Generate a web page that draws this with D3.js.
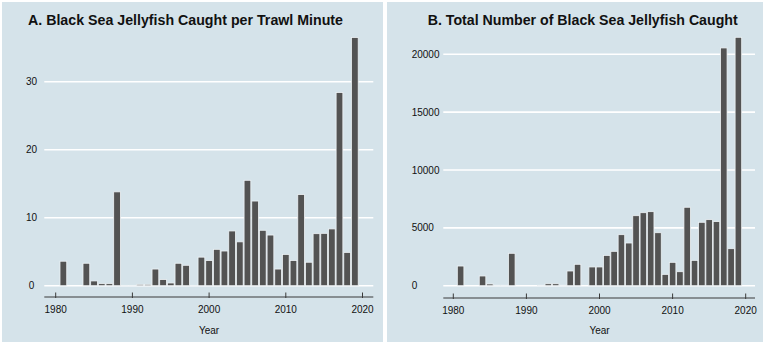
<!DOCTYPE html>
<html>
<head>
<meta charset="utf-8">
<script src="https://cdn.jsdelivr.net/npm/d3@7"></script>
<style>
  html, body { margin: 0; padding: 0; background: #ffffff; }
  svg { display: block; font-family: "Liberation Sans", Arial, sans-serif; }
</style>
</head>
<body>
<svg id="chart" width="765" height="345"></svg>
<script>
// ---- data ----
const years = d3.range(1980, 2020); // 1980..2019
// Panel A: jellyfish caught per trawl minute (null = no bar)
const perMinute = [
  null, 3.6, null, null, 3.3, 0.7, 0.3, 0.3, 13.8, 0.05,
  0.05, 0.2, 0.2, 2.45, 0.9, 0.4, 3.3, 3.0, 0.05, 4.2,
  3.7, 5.35, 5.1, 8.05, 6.45, 15.5, 12.45, 8.15, 7.45, 2.45,
  4.6, 3.7, 13.4, 3.45, 7.65, 7.7, 8.35, 28.4, 4.9, 36.5
];
// Panel B: total number caught
const totalCaught = [
  null, 1700, null, null, 840, 150, 40, 40, 2800, null,
  null, null, 40, 170, 170, 40, 1270, 1850, null, 1620,
  1620, 2620, 2970, 4410, 3690, 6050, 6310, 6400, 4580, 980,
  2020, 1210, 6780, 2190, 5480, 5710, 5540, 20550, 3200, 21470
];
const xTicks = [1980, 1990, 2000, 2010, 2020];
const yTicksA = [0, 10, 20, 30];
const yTicksB = [0, 5000, 10000, 15000, 20000];
const titleA = "A. Black Sea Jellyfish Caught per Trawl Minute";
const titleB = "B. Total Number of Black Sea Jellyfish Caught";
const xLabel = "Year";

// ---- style ----
const bg = "#d5e3ea";
const barFill = "#535353";
const barStroke = "#eef3f6";
const textColor = "#111111";

const svg = d3.select("#chart");

function panel(cfg) {
  const g = svg.append("g");
  g.append("rect")
    .attr("x", cfg.bx0).attr("y", 2)
    .attr("width", cfg.bx1 - cfg.bx0).attr("height", 340)
    .attr("fill", bg);

  const x = d3.scaleLinear().domain([1980, 2020]).range(cfg.xRange);
  const y = d3.scaleLinear().domain(cfg.yDomain).range([285.7, cfg.yTopPx]);
  const step = x(1981) - x(1980);
  const bw = step * cfg.barFrac;

  // gridlines
  g.append("g").selectAll("line").data(cfg.yTicks).join("line")
    .attr("x1", cfg.gx0).attr("x2", cfg.gx1)
    .attr("y1", d => y(d)).attr("y2", d => y(d))
    .attr("stroke", "#ffffff").attr("stroke-width", 1.6);

  // y tick labels
  g.append("g").selectAll("text").data(cfg.yTicks).join("text")
    .attr("x", cfg.ylx).attr("y", d => y(d))
    .attr("dy", "0.35em")
    .attr("text-anchor", cfg.ylAnchor)
    .attr("font-size", 10).attr("fill", textColor)
    .text(d => d);

  // bars
  const data = years.map((yr, i) => ({ yr, v: cfg.values[i] })).filter(d => d.v != null);
  g.append("g").selectAll("rect").data(data).join("rect")
    .attr("x", d => x(d.yr) - bw / 2)
    .attr("width", bw)
    .attr("y", d => y(d.v))
    .attr("height", d => Math.max(0.01, y(0) - y(d.v)))
    .attr("fill", barFill)
    .attr("stroke", barStroke).attr("stroke-width", 0.8);

  // x axis
  const axY = cfg.axisY;
  g.append("line")
    .attr("x1", cfg.gx0).attr("x2", cfg.gx1)
    .attr("y1", axY).attr("y2", axY)
    .attr("stroke", "#3a3a3a").attr("stroke-width", 1.2);
  g.append("g").selectAll("line").data(xTicks).join("line")
    .attr("x1", d => x(d)).attr("x2", d => x(d))
    .attr("y1", axY - 4.5).attr("y2", axY + 1)
    .attr("stroke", "#3a3a3a").attr("stroke-width", 1);
  g.append("g").selectAll("text").data(xTicks).join("text")
    .attr("x", d => x(d)).attr("y", axY + 12.5)
    .attr("dy", "0.35em")
    .attr("text-anchor", "middle")
    .attr("font-size", 10).attr("fill", textColor)
    .text(d => d);

  // axis title
  g.append("text")
    .attr("x", (x(1980) + x(2020)) / 2).attr("y", 330)
    .attr("dy", "0.35em").attr("text-anchor", "middle")
    .attr("font-size", 10).attr("fill", textColor)
    .text(xLabel);

  // panel title
  g.append("text")
    .attr("x", cfg.tx).attr("y", 25)
    .attr("font-size", 14.5).attr("font-weight", "bold")
    .attr("fill", textColor)
    .attr("textLength", cfg.tw)
    .attr("lengthAdjust", "spacingAndGlyphs")
    .text(cfg.title);
}

panel({
  bx0: 2, bx1: 383,
  xRange: [55.7, 362.5],
  yDomain: [0, 30], yTopPx: 81.7,
  gx0: 44.3, gx1: 373.3,
  ylx: 31.5, ylAnchor: "middle",
  yTicks: yTicksA,
  values: perMinute,
  barFrac: 0.88,
  axisY: 297,
  tx: 28, tw: 315,
  title: titleA
});

panel({
  bx0: 387, bx1: 763,
  xRange: [453.3, 745.7],
  yDomain: [0, 20000], yTopPx: 54.3,
  gx0: 443.3, gx1: 755,
  ylx: 411.7, ylAnchor: "start",
  yTicks: yTicksB,
  values: totalCaught,
  barFrac: 0.9,
  axisY: 298,
  tx: 427.7, tw: 310,
  title: titleB
});
</script>
</body>
</html>
